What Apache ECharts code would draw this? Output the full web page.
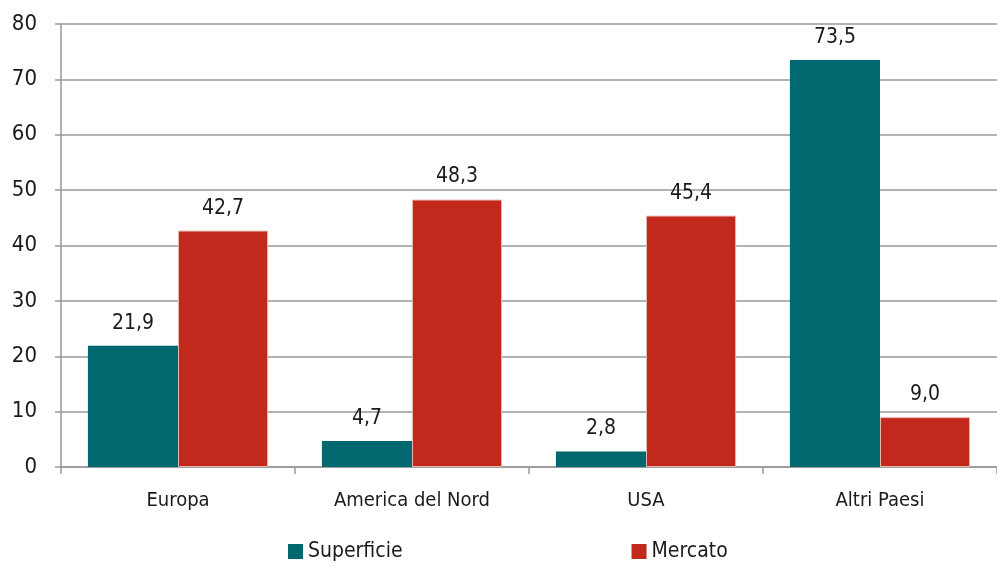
<!DOCTYPE html>
<html lang="it">
<head>
<meta charset="utf-8">
<title>Superficie e Mercato</title>
<script src="https://cdn.jsdelivr.net/npm/echarts@6/dist/echarts.min.js"></script>
<style>
  html, body { margin: 0; padding: 0; background: #fff; }
  #chart { width: 997px; height: 570px; }
</style>
</head>
<body>
<div id="chart"></div>
<script type="text/javascript">
  var categories = ['Europa', 'America del Nord', 'USA', 'Altri Paesi'];
  var superficie = [21.9, 4.7, 2.8, 73.5];
  var mercato = [42.7, 48.3, 45.4, 9.0];

  var fontName = "'DejaVu Sans Condensed', 'DejaVu Sans', sans-serif";
  function fmt(p) {
    return p.value.toFixed(1).replace('.', ',');
  }

  var chart = echarts.init(document.getElementById('chart'));
  chart.setOption({
    animation: false,
    textStyle: { fontFamily: fontName },
    grid: { left: 61, right: 0, top: 24, bottom: 103 },
    legend: {
      bottom: 3,
      left: 283,
      itemWidth: 15,
      itemHeight: 15,
      itemGap: 229,
      icon: 'rect',
      itemStyle: { borderWidth: 0 },
      textStyle: { fontFamily: fontName, fontSize: 21, color: '#1a1a1a' },
      data: ['Superficie', 'Mercato']
    },
    xAxis: {
      type: 'category',
      data: categories,
      axisLine: { lineStyle: { color: '#999', width: 1.5 } },
      axisTick: { show: true, length: 7, lineStyle: { color: '#999', width: 1.5 } },
      axisLabel: { fontFamily: fontName, fontSize: 20, color: '#1a1a1a', margin: 24 }
    },
    yAxis: {
      type: 'value',
      min: 0,
      max: 80,
      interval: 10,
      axisLine: { show: true, lineStyle: { color: '#999', width: 1.5 } },
      axisTick: { show: true, length: 6, lineStyle: { color: '#999', width: 1.5 } },
      splitLine: { lineStyle: { color: '#999', width: 1.5 } },
      axisLabel: { fontFamily: fontName, fontSize: 22, color: '#1a1a1a', margin: 24 }
    },
    series: [{
      name: 'Superficie',
      type: 'bar',
      data: superficie,
      barGap: '0%',
      barCategoryGap: '23%',
      itemStyle: { color: '#02686F' },
      label: { show: true, position: 'top', distance: 12, formatter: fmt, fontFamily: fontName, fontSize: 21, color: '#1a1a1a' }
    }, {
      name: 'Mercato',
      type: 'bar',
      data: mercato,
      itemStyle: { color: '#C0291B', borderColor: '#E8B8B0', borderWidth: 1 },
      label: { show: true, position: 'top', distance: 12, formatter: fmt, fontFamily: fontName, fontSize: 21, color: '#1a1a1a' }
    }]
  });
</script>
</body>
</html>
